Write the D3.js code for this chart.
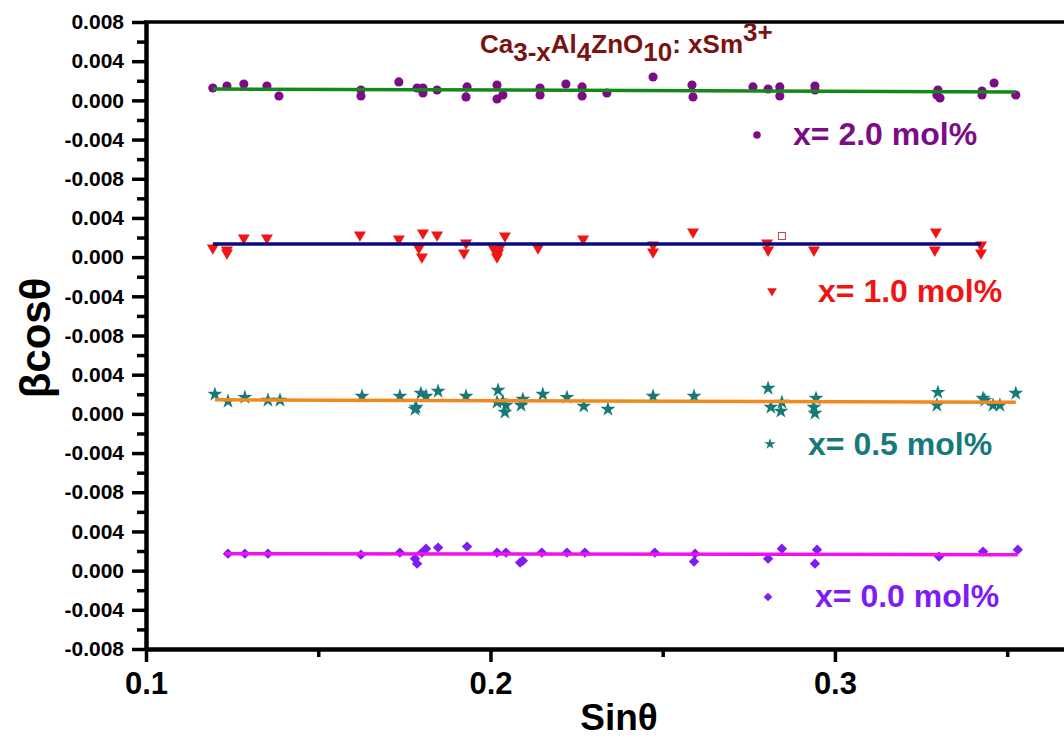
<!DOCTYPE html>
<html>
<head>
<meta charset="utf-8">
<script src="https://cdn.jsdelivr.net/npm/d3@7"></script>
<style>
	body { margin: 0; background: #fff; }
	svg { display: block; font-family: Arial, "Liberation Sans", sans-serif; }
</style>
</head>
<body>
<svg id="chart"></svg>
<script>
// sin(theta) / beta*cos(theta) values, one pair of arrays per Sm content
let sin20 = [0.1194, 0.1235, 0.1284, 0.1351, 0.1386, 0.1624, 0.1624, 0.1734, 0.1787, 0.1804, 0.1804, 0.1845, 0.1929, 0.1932, 0.2019, 0.2019, 0.2036, 0.2144, 0.2144, 0.2219, 0.2266, 0.2266, 0.2338, 0.2472, 0.2585, 0.2588, 0.2762, 0.2806, 0.2840, 0.2840, 0.2942, 0.2942, 0.3296, 0.3299, 0.3305, 0.3427, 0.3427, 0.3462, 0.3525];
let bcos20 = [0.00126, 0.00147, 0.00167, 0.00147, 0.00045, 0.00106, 0.00045, 0.00188, 0.00126, 0.00075, 0.00126, 0.00106, 0.00035, 0.00137, 0.00157, 0.00014, 0.00055, 0.00126, 0.00055, 0.00167, 0.00137, 0.00045, 0.00075, 0.00239, 0.00157, 0.00035, 0.00137, 0.00116, 0.00137, 0.00045, 0.00147, 0.00106, 0.00055, 0.00106, 0.00024, 0.00096, 0.00055, 0.00177, 0.00055];

let sin10 = [0.1194, 0.1235, 0.1235, 0.1284, 0.1351, 0.1621, 0.1734, 0.1804, 0.1792, 0.1801, 0.1845, 0.1929, 0.1923, 0.2010, 0.2022, 0.2019, 0.2028, 0.2042, 0.2138, 0.2269, 0.2472, 0.2472, 0.2588, 0.2803, 0.2806, 0.2939, 0.3293, 0.3290, 0.3424, 0.3424];
let bcos10 = [0.00094, 0.00073, 0.00043, 0.00196, 0.00196, 0.00227, 0.00186, 0.00247, 0.00094, 0.00002, 0.00227, 0.00145, 0.00043, 0.00084, 0.00043, 0.00002, 0.00104, 0.00216, 0.00094, 0.00186, 0.00124, 0.00053, 0.00257, 0.00145, 0.00073, 0.00073, 0.00257, 0.00073, 0.00124, 0.00043];

let sin05 = [0.1200, 0.1238, 0.1287, 0.1354, 0.1389, 0.1627, 0.1737, 0.1781, 0.1784, 0.1798, 0.1813, 0.1848, 0.1929, 0.2022, 0.2019, 0.2036, 0.2045, 0.2042, 0.2089, 0.2094, 0.2152, 0.2222, 0.2271, 0.2341, 0.2472, 0.2591, 0.2806, 0.2814, 0.2843, 0.2846, 0.2945, 0.2939, 0.2942, 0.3299, 0.3296, 0.3430, 0.3435, 0.3459, 0.3479, 0.3525];
let bcos05 = [0.00200, 0.00129, 0.00169, 0.00139, 0.00139, 0.00180, 0.00180, 0.00047, 0.00067, 0.00210, 0.00180, 0.00231, 0.00180, 0.00241, 0.00118, 0.00129, 0.00088, 0.00016, 0.00088, 0.00149, 0.00200, 0.00169, 0.00078, 0.00047, 0.00180, 0.00180, 0.00261, 0.00067, 0.00027, 0.00118, 0.00159, 0.00067, 0.00006, 0.00220, 0.00088, 0.00159, 0.00139, 0.00088, 0.00088, 0.00210];

let sin00 = [0.1238, 0.1287, 0.1354, 0.1624, 0.1737, 0.1781, 0.1787, 0.1801, 0.1813, 0.1848, 0.1932, 0.2019, 0.2045, 0.2086, 0.2094, 0.2149, 0.2222, 0.2274, 0.2477, 0.2594, 0.2591, 0.2806, 0.2846, 0.2948, 0.2942, 0.3302, 0.3430, 0.3531];
let bcos00 = [0.00173, 0.00173, 0.00173, 0.00163, 0.00184, 0.00122, 0.00071, 0.00184, 0.00224, 0.00235, 0.00245, 0.00184, 0.00184, 0.00082, 0.00102, 0.00184, 0.00184, 0.00184, 0.00184, 0.00173, 0.00092, 0.00122, 0.00224, 0.00214, 0.00071, 0.00143, 0.00194, 0.00214];

// linear fit end points
let fitSin20 = [0.1194, 0.3525], fitBcos20 = [0.00116, 0.00086];
let fitSin10 = [0.1194, 0.3424], fitBcos10 = [0.00135, 0.00135];
let fitSin05 = [0.1200, 0.3525], fitBcos05 = [0.00143, 0.00118];
let fitSin00 = [0.1229, 0.3531], fitBcos00 = [0.00173, 0.00163];

// a stray open square in the x = 1.0 panel
let straySin = [0.2846], strayBcos = [0.00216];

let seriesNames = ["x= 2.0 mol%", "x= 1.0 mol%", "x= 0.5 mol%", "x= 0.0 mol%"];
let yTickLabels = ["0.008",
	"0.004", "0.000", "-0.004", "-0.008",
	"0.004", "0.000", "-0.004", "-0.008",
	"0.004", "0.000", "-0.004", "-0.008",
	"0.004", "0.000", "-0.004", "-0.008"];
let xTickLabels = ["0.1", "0.2", "0.3"];

let w = 1064, h = 738;
let chart = d3.select('#chart').attr('width', w).attr('height', h);

let xScale = d3.scaleLinear().domain([0.1, 0.3665]).range([146, 1064]);
let yScale = d3.scaleLinear().domain([-0.056, 0.008]).range([649, 22]);

// each panel is shifted down by 0.016 on one shared axis
let offsets = [0, -0.016, -0.032, -0.048];

let series = [
	{ sx: sin20, sy: bcos20, fx: fitSin20, fy: fitBcos20, color: '#7d0b86', line: '#13891a', sym: d3.symbolCircle, size: 66, rot: 0, lsize: 44 },
	{ sx: sin10, sy: bcos10, fx: fitSin10, fy: fitBcos10, color: '#f01414', line: '#0b0b7e', sym: d3.symbolTriangle, size: 62, rot: 180, lsize: 40 },
	{ sx: sin05, sy: bcos05, fx: fitSin05, fy: fitBcos05, color: '#167a7a', line: '#f08a1e', sym: d3.symbolStar, size: 70, rot: 0, lsize: 40 },
	{ sx: sin00, sy: bcos00, fx: fitSin00, fy: fitBcos00, color: '#7f1cf5', line: '#f012ee', sym: d3.symbolSquare, size: 54, rot: 45, lsize: 38 }
];
let legendPos = [[757, 135, 793, 145], [772, 291, 818, 302], [770, 444, 808, 455], [768, 597, 815, 607]];

// points and fit lines
series.forEach((s, k) => {
	let g = chart.append('g');
	let pts = s.sx.map((v, i) => [v, s.sy[i] + offsets[k]]);

	g.selectAll('path.pt')
		.data(pts)
		.enter()
		.append('path')
		.attr('class', 'pt')
		.attr('d', d3.symbol().type(s.sym).size(s.size))
		.attr('transform', d => `translate(${xScale(d[0])},${yScale(d[1])}) rotate(${s.rot})`)
		.attr('fill', s.color);

	let fit = s.fx.map((v, i) => [v, s.fy[i] + offsets[k]]);
	g.append('path')
		.datum(fit)
		.attr('d', d3.line().x(d => xScale(d[0])).y(d => yScale(d[1])))
		.attr('stroke', s.line)
		.attr('stroke-width', 3.5)
		.attr('fill', 'none');

	// legend
	let lp = legendPos[k];
	g.append('path')
		.attr('d', d3.symbol().type(s.sym).size(s.lsize))
		.attr('transform', `translate(${lp[0]},${lp[1]}) rotate(${s.rot})`)
		.attr('fill', s.color);
	g.append('text')
		.attr('x', lp[2])
		.attr('y', lp[3])
		.attr('fill', s.color)
		.style('font-size', '32px')
		.style('font-weight', 'bold')
		.text(seriesNames[k]);
});

chart.selectAll('rect.stray')
	.data(straySin.map((v, i) => [v, strayBcos[i] + offsets[1]]))
	.enter()
	.append('rect')
	.attr('class', 'stray')
	.attr('x', d => xScale(d[0]) - 3.5)
	.attr('y', d => yScale(d[1]) - 3.5)
	.attr('width', 7)
	.attr('height', 7)
	.attr('fill', 'none')
	.attr('stroke', '#b04848')
	.attr('stroke-width', 1);

// AXES
let yTicks = d3.range(17).map(i => 0.008 - 0.004 * i);
let yMinor = d3.range(16).map(i => 0.006 - 0.004 * i);

let yAxis = d3.axisLeft(yScale).tickValues(yTicks).tickFormat((d, i) => yTickLabels[i]).tickSize(14).tickSizeOuter(0).tickPadding(8);
let yAxisGroup = chart.append('g')
	.attr('class', 'axis-left')
	.attr('transform', 'translate(146,0)')
	.call(yAxis);
yAxisGroup.selectAll('text').style('font-size', '21px').style('font-weight', 'bold').attr('fill', '#000');

chart.append('g')
	.attr('transform', 'translate(146,0)')
	.call(d3.axisLeft(yScale).tickValues(yMinor).tickFormat('').tickSize(9).tickSizeOuter(0))
	.select('.domain').remove();

let xAxis = d3.axisBottom(xScale).tickValues([0.1, 0.2, 0.3]).tickFormat((d, i) => xTickLabels[i]).tickSize(13).tickSizeOuter(0).tickPadding(10);
let xAxisGroup = chart.append('g')
	.attr('class', 'axis-bottom')
	.attr('transform', 'translate(0,649)')
	.call(xAxis);
xAxisGroup.selectAll('text').style('font-size', '31px').style('font-weight', 'bold').attr('fill', '#000');

chart.append('g')
	.attr('transform', 'translate(0,649)')
	.call(d3.axisBottom(xScale).tickValues([0.15, 0.25, 0.35]).tickFormat('').tickSize(8).tickSizeOuter(0))
	.select('.domain').remove();

chart.selectAll('.tick line').attr('stroke', '#000').attr('stroke-width', 3.5);
chart.selectAll('.domain').attr('stroke', '#000').attr('stroke-width', 4.5);

// top frame
chart.append('line')
	.attr('x1', 144).attr('x2', w)
	.attr('y1', yScale(0.008)).attr('y2', yScale(0.008))
	.attr('stroke', '#000')
	.attr('stroke-width', 3.5);

// LABELS
let title = chart.append('text')
	.attr('x', 480)
	.attr('y', 53)
	.attr('fill', '#7a1212')
	.style('font-size', '26px')
	.style('font-weight', 'bold');
title.append('tspan').text('Ca');
title.append('tspan').attr('dy', 8).text('3-x');
title.append('tspan').attr('dy', -8).text('Al');
title.append('tspan').attr('dy', 8).text('4');
title.append('tspan').attr('dy', -8).text('ZnO');
title.append('tspan').attr('dy', 8).text('10');
title.append('tspan').attr('dy', -8).text(': xSm');
title.append('tspan').attr('dy', -12).text('3+');

chart.append('text')
	.attr('x', 619)
	.attr('y', 730)
	.style('text-anchor', 'middle')
	.style('font-size', '37px')
	.style('font-weight', 'bold')
	.text('Sinθ');

chart.append('text')
	.attr('transform', 'translate(50,338) rotate(-90)')
	.style('text-anchor', 'middle')
	.style('font-size', '42px')
	.style('font-weight', 'bold')
	.text('βcosθ');
</script>
</body>
</html>
